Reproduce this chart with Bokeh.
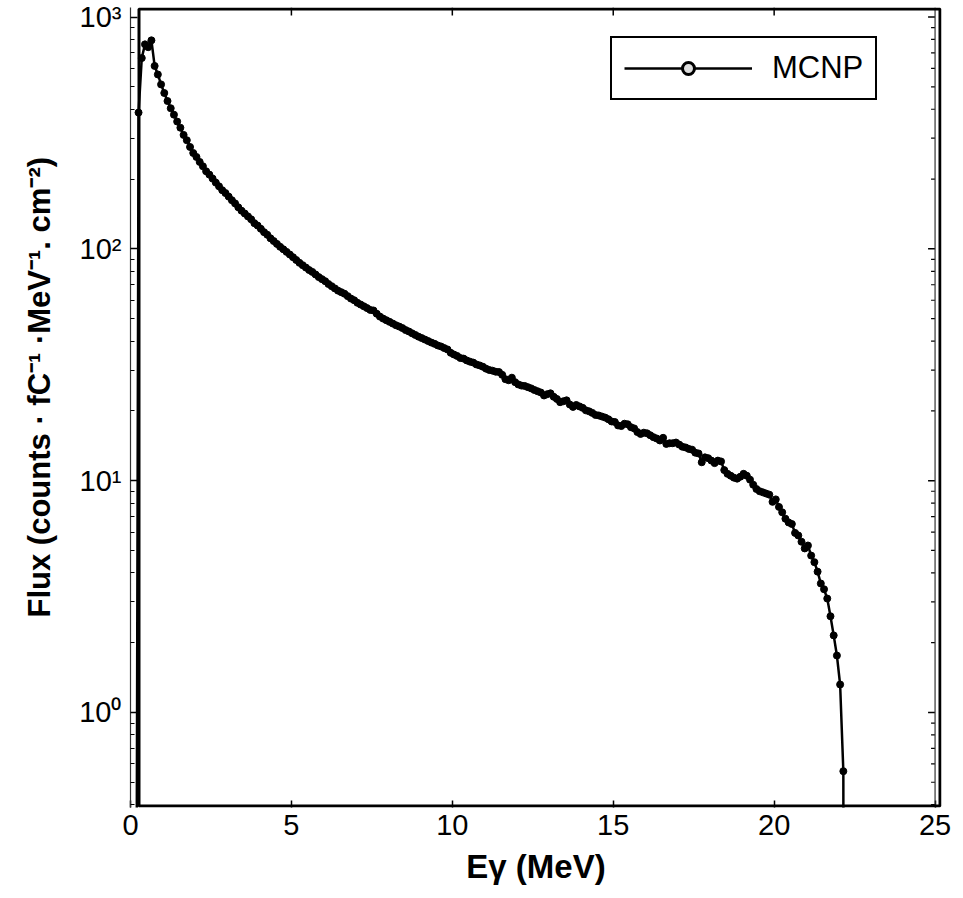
import numpy as np
from bokeh.plotting import figure
from bokeh.models import (Range1d, FixedTicker, BoxAnnotation, Span, Legend, LegendItem, Title)
from bokeh.embed import file_html
from bokeh.resources import INLINE

# ---- data: photon flux spectrum (MCNP), bins of 0.1 MeV centred at 0.25 ... 22.15 MeV ----
flux_0 = [387, 665, 762, 741, 793, 615, 565, 512]                       # 0.25-0.95
flux_1 = [470, 434, 404, 379, 354, 333, 310, 294, 275, 259]             # 1.05-1.95
flux_2 = [249, 237, 227, 216, 209, 201, 193, 186, 179, 174]
flux_3 = [168, 162, 157, 151, 146, 142, 138, 134, 129, 126]
flux_4 = [122, 118, 115, 111, 108, 105, 102, 99.5, 97, 94.5]
flux_5 = [92, 89.5, 87, 85, 83, 81, 79.5, 77.5, 75.5, 74]
flux_6 = [72.5, 70.5, 69, 67.5, 66, 65, 64, 62.5, 61, 60]
flux_7 = [58.5, 57.5, 56.5, 55.5, 54.5, 54.2, 52.5, 51, 50, 49.2]
flux_8 = [48.4, 47.6, 46.8, 46.2, 45.5, 44.6, 44.0, 43.2, 42.5, 41.8]
flux_9 = [41.2, 40.6, 40.0, 39.4, 38.9, 38.3, 37.9, 37.3, 36.8, 35.6]
flux_10 = [35.0, 34.5, 33.8, 33.6, 33.0, 32.6, 32.3, 31.7, 31.4, 31.0]
flux_11 = [30.4, 30.0, 29.8, 29.5, 29.4, 28.6, 27.4, 27.1, 27.8, 26.6]
flux_12 = [26.0, 25.7, 25.6, 25.3, 25.0, 24.6, 24.3, 24.0, 23.3, 23.6]
flux_13 = [23.8, 23.0, 22.5, 21.8, 22.0, 22.2, 21.3, 20.8, 21.2, 20.9]
flux_14 = [20.6, 20.1, 19.9, 19.6, 19.2, 19.1, 18.9, 18.7, 18.4, 18.0]
flux_15 = [17.9, 17.3, 17.2, 17.6, 17.5, 17.0, 16.8, 16.2, 15.9, 16.1]
flux_16 = [16.0, 15.7, 15.4, 15.2, 14.9, 15.3, 14.4, 14.5, 14.5, 14.6]
flux_17 = [14.3, 14.0, 13.9, 13.7, 13.6, 13.2, 13.1, 12.0, 12.6, 12.5]
flux_18 = [12.2, 11.9, 12.2, 12.1, 11.1, 10.7, 10.5, 10.3, 10.2, 10.4]
flux_19 = [10.7, 10.5, 10.1, 9.6, 9.2, 9.0, 8.9, 8.8, 8.7, 8.1]
flux_20 = [8.3, 7.7, 7.3, 6.85, 6.6, 6.5, 5.95, 5.8, 5.45, 5.1]
flux_21 = [5.25, 4.75, 4.45, 4.05, 3.6, 3.4, 3.1, 2.6, 2.15, 1.76]
flux_22 = [1.32, 0.558]                                                  # 22.05-22.15

flux = (flux_0 + flux_1 + flux_2 + flux_3 + flux_4 + flux_5 + flux_6 + flux_7 +
        flux_8 + flux_9 + flux_10 + flux_11 + flux_12 + flux_13 + flux_14 +
        flux_15 + flux_16 + flux_17 + flux_18 + flux_19 + flux_20 + flux_21 + flux_22)
bin_start = 0.25
bin_width = 0.1
energy = [round(bin_start + bin_width * i, 2) for i in range(len(flux))]

# empty (near-zero) bins just outside the spectrum, where the line drops off the plot
edge_energy = [0.15, 22.17]
edge_flux = [1e-3, 1e-3]

x_ticks = [0, 5, 10, 15, 20, 25]
y_ticks = [1, 10, 100, 1000]
y_tick_labels = ["10\u2070", "10\u00b9", "10\u00b2", "10\u00b3"]

series_name = "MCNP"
x_label = "E\u03b3 (MeV)"
y_label = "Flux (counts \u00b7 fC\u207b\u00b9 \u00b7MeV\u207b\u00b9. cm\u207b\u00b2)"

FONT = "Liberation Sans"

X0, X1 = 0.0, 25.2
Y0, Y1 = 0.389, 1099.0
FRAME_W, FRAME_H = 811, 800

line_x = [edge_energy[0]] + energy + [edge_energy[1]]
line_y = [edge_flux[0]] + flux + [edge_flux[1]]

p = figure(width=953, height=891, x_range=Range1d(X0, X1), y_range=Range1d(Y0, Y1),
           y_axis_type="log", output_backend="svg", toolbar_location=None)
p.min_border = 0
p.min_border_left = 130
p.min_border_right = 12
p.min_border_bottom = 84
p.min_border_top = 7
p.grid.visible = False
p.outline_line_color = None
p.background_fill_color = "white"
p.border_fill_color = "white"

minor_y = [m * 10.0 ** e for e in range(-1, 3) for m in range(2, 10) if m * 10.0 ** e > 0.38]

# bottom axis
xa = p.xaxis[0]
xa.ticker = FixedTicker(ticks=x_ticks, minor_ticks=[])
xa.major_tick_in = 7
xa.major_tick_out = 0
xa.major_tick_line_width = 1.5
xa.minor_tick_line_color = None
xa.axis_line_color = None
xa.major_label_standoff = 7
xa.major_label_text_font = FONT
xa.major_label_text_font_size = "29px"
xa.major_label_text_color = "black"
xa.axis_label = x_label
xa.axis_label_text_font = FONT
xa.axis_label_text_font_style = "bold"
xa.axis_label_text_font_size = "33px"
xa.axis_label_text_color = "black"
xa.axis_label_standoff = 10

# left axis
ya = p.yaxis[0]
ya.ticker = FixedTicker(ticks=y_ticks, minor_ticks=minor_y)
ya.major_label_overrides = {t: lab for t, lab in zip(y_ticks, y_tick_labels)}
ya.major_tick_in = 7
ya.major_tick_out = 0
ya.minor_tick_in = 4
ya.minor_tick_out = 0
ya.major_tick_line_width = 1.5
ya.minor_tick_line_width = 1.2
ya.axis_line_color = "#333333"
ya.axis_line_width = 1.2
ya.major_label_standoff = 9
ya.major_label_text_font = FONT
ya.major_label_text_font_size = "29px"
ya.major_label_text_color = "black"

# y-axis title, shifted a little above the frame centre as in the reference
p.add_layout(Title(text=y_label, align="left", offset=190, standoff=39,
                   text_font=FONT, text_font_style="bold", text_font_size="31px",
                   text_color="black"), "left")

# tick marks on the top and right edges (ticks only, no labels)
px_x = (X1 - X0) / FRAME_W               # one pixel in data units along x
dec_per_px = np.log10(Y1 / Y0) / FRAME_H  # one pixel in decades along y
top_ticks = [t for t in x_ticks if 0 < t < 25]
p.segment(x0=top_ticks, x1=top_ticks, y0=[Y1] * len(top_ticks),
          y1=[Y1 / 10 ** (8 * dec_per_px)] * len(top_ticks), line_color="black", line_width=1.5)
p.segment(x0=[25 - 7 * px_x] * len(y_ticks), x1=[25] * len(y_ticks), y0=y_ticks, y1=y_ticks,
          line_color="black", line_width=1.5)
p.segment(x0=[25 - 4 * px_x] * len(minor_y), x1=[25] * len(minor_y), y0=minor_y, y1=minor_y,
          line_color="black", line_width=1.2)

p.add_layout(Span(location=25, dimension="height", line_color="#333333", line_width=1.2))

# thick frame (inset so the whole stroke stays inside the frame)
p.add_layout(BoxAnnotation(left=8.5 * px_x, right=X1 - 1.5 * px_x,
                           top=Y1 / 10 ** (1.5 * dec_per_px), bottom=Y0 * 10 ** (1.5 * dec_per_px),
                           fill_alpha=0, line_color="black",
                           line_width=3, line_alpha=1, level="overlay"))

# data
line_r = p.line(line_x, line_y, line_color="black", line_width=2.5)
p.scatter(energy, flux, marker="circle", size=7, fill_color="black", line_color="black")

legend_marker = p.scatter(x=[1.0], y=[1e-6], marker="circle", size=8, fill_color="#dddddd",
                          line_color="black", line_width=3)

legend = Legend(items=[LegendItem(label=series_name, renderers=[line_r, legend_marker])],
                location=(480, 707), border_line_color="black", border_line_width=2,
                border_line_alpha=1, background_fill_color="white", background_fill_alpha=1,
                padding=12, margin=0, spacing=0, glyph_width=128, glyph_height=30,
                label_standoff=20, label_height=30, label_text_font=FONT,
                label_text_font_size="31px", label_text_color="black")
p.add_layout(legend)

open("out.html", "w").write(file_html(p, INLINE))
